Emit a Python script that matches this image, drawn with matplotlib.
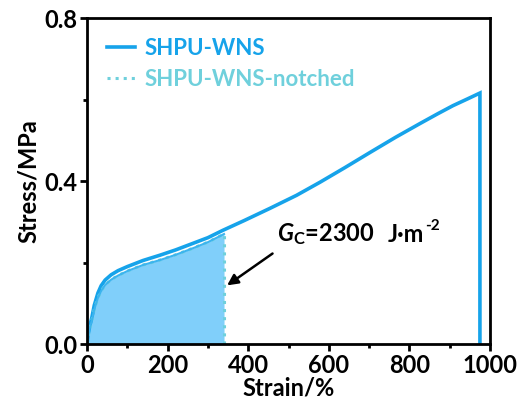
import matplotlib
matplotlib.use('Agg')
import matplotlib.pyplot as plt
import numpy as np

# ---------------- data ----------------
strain_wns = [0, 3, 7, 12, 18, 27, 35, 45, 60, 77, 100, 139, 181, 220, 260, 300, 337,
              390, 454, 520, 578, 640, 702, 765, 826, 870, 908, 945, 975, 975]
stress_wns = [0, 0.025, 0.045, 0.065, 0.095, 0.125, 0.143, 0.157, 0.17, 0.18, 0.19, 0.205,
              0.218, 0.231, 0.246, 0.261, 0.279, 0.303, 0.333, 0.365, 0.397, 0.433, 0.47,
              0.507, 0.541, 0.565, 0.585, 0.602, 0.616, 0.0]

strain_notch = [0, 3, 7, 12, 18, 27, 35, 45, 60, 77, 100, 139, 181, 220, 260, 300, 340]
stress_notch = [0, 0.02, 0.04, 0.058, 0.085, 0.113, 0.13, 0.145, 0.158, 0.168, 0.179,
                0.194, 0.206, 0.219, 0.234, 0.25, 0.27]

c_wns = '#16a3ea'
c_notch = '#6fd0dc'
c_fill = '#80cffa'

plt.rcParams['font.family'] = ['Lato', 'DejaVu Sans']
plt.rcParams['font.weight'] = 'bold'
plt.rcParams['mathtext.fontset'] = 'custom'
plt.rcParams['mathtext.bf'] = 'Lato:bold'
plt.rcParams['mathtext.bfit'] = 'Lato:bold:italic'
plt.rcParams['mathtext.it'] = 'Lato:bold:italic'
plt.rcParams['mathtext.rm'] = 'Lato:bold'

fig = plt.figure(figsize=(5.22, 4.11), dpi=100)
ax = fig.add_axes([0.1667, 0.163, 0.772, 0.793])

# area under notched curve
ax.fill_between(strain_notch, 0, stress_notch, color=c_fill, lw=0)
ax.plot(strain_wns, stress_wns, color=c_wns, lw=2.6, label='SHPU-WNS', solid_joinstyle='miter')
ax.plot(strain_notch, stress_notch, color=c_notch, lw=2.2, ls=':', label='SHPU-WNS-notched')
ax.plot([strain_notch[-1], strain_notch[-1]], [0, stress_notch[-1]], color=c_notch, lw=2.2, ls=':')
ax.plot(strain_notch, stress_notch, color='#3cb4ee', lw=1.5)

ax.annotate('', xy=(342, 0.14), xytext=(466, 0.226),
            arrowprops=dict(arrowstyle='-|>', color='black', lw=1.8, mutation_scale=16))
ax.text(472, 0.27, '$G_\\mathrm{C}$=2300', fontsize=17, fontweight='bold', va='center', ha='left')
jm = ax.text(745, 0.27, 'J·m', fontsize=17, fontweight='bold', va='center', ha='left')
ax.annotate('-2', xy=(1.0, 0.55), xycoords=jm, xytext=(1, 0), textcoords='offset points',
            fontsize=11, fontweight='bold', va='bottom', ha='left')

ax.set_xlim(0, 1000)
ax.set_ylim(0, 0.8)
ax.set_xticks([0, 200, 400, 600, 800, 1000])
ax.set_xticks([100, 300, 500, 700, 900], minor=True)
ax.set_yticks([0.0, 0.4, 0.8])
ax.set_yticks([0.2, 0.6], minor=True)
ax.set_yticklabels(['0.0', '0.4', '0.8'])
ax.tick_params(which='major', direction='out', length=5, width=2, labelsize=17, pad=2)
ax.tick_params(which='minor', direction='out', length=3, width=2)
for lab in ax.get_xticklabels() + ax.get_yticklabels():
    lab.set_fontweight('bold')
for sp in ax.spines.values():
    sp.set_linewidth(2)

ax.set_xlabel('Strain/%', fontsize=17, fontweight='bold', labelpad=0)
ax.set_ylabel('Stress/MPa', fontsize=17, fontweight='bold', labelpad=3)

leg = ax.legend(loc='upper left', frameon=False, handlelength=1.25,
                borderaxespad=0.5, borderpad=0.4, labelspacing=0.45, handletextpad=0.45,
                prop={'weight': 'bold', 'size': 16}, bbox_to_anchor=(-0.0, 1.0))
for t, c in zip(leg.get_texts(), [c_wns, c_notch]):
    t.set_color(c)

fig.savefig('out.png', dpi=100)
plt.close('all')
